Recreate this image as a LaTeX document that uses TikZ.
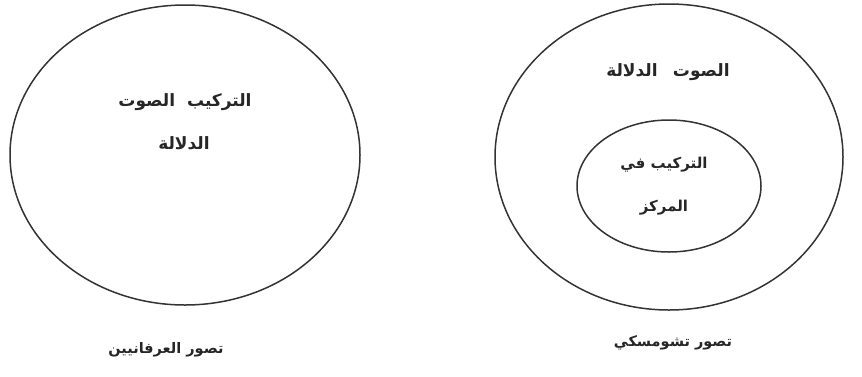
\documentclass[tikz,border=0pt]{standalone}
\usepackage{fontspec}
\TeXXeTstate=1
\newfontfamily\arabicfont[Script=Arabic]{DejaVu Sans}
\begin{document}
\begin{tikzpicture}[x=1pt,y=-1pt,
  ring/.style={draw=black!80,line width=1.5pt},
  lbl/.style={font=\arabicfont\bfseries\fontsize{17}{20}\selectfont,text=black!85,inner sep=0pt,anchor=center},
  small/.style={lbl,font=\arabicfont\bfseries\fontsize{15}{18}\selectfont},
  caption/.style={lbl,font=\arabicfont\bfseries\fontsize{14.5}{17}\selectfont}]
\useasboundingbox (0,0) rectangle (862,376);
\draw[ring] (185,155) ellipse [x radius=175, y radius=150];
\draw[ring] (669,157) ellipse [x radius=174, y radius=153];
\draw[ring] (669,186) ellipse [x radius=92, y radius=66];
\node[lbl] (l1) at (185,102) {\beginR التركيب\hspace{0.7em}الصوت\endR};
\node[lbl] (l2) at (184,143) {\beginR الدلالة\endR};
\node[caption] (l3) at (166,350) {\beginR تصور العرفانيين\endR};
\node[lbl] (r1) at (668,72) {\beginR الصوت\hspace{0.9em}الدلالة\endR};
\node[small] (r2) at (664,165) {\beginR التركيب في\endR};
\node[small] (r3) at (664,208) {\beginR المركز\endR};
\node[caption] (r4) at (673,343) {\beginR تصور تشومسكي\endR};
\end{tikzpicture}
\end{document}
